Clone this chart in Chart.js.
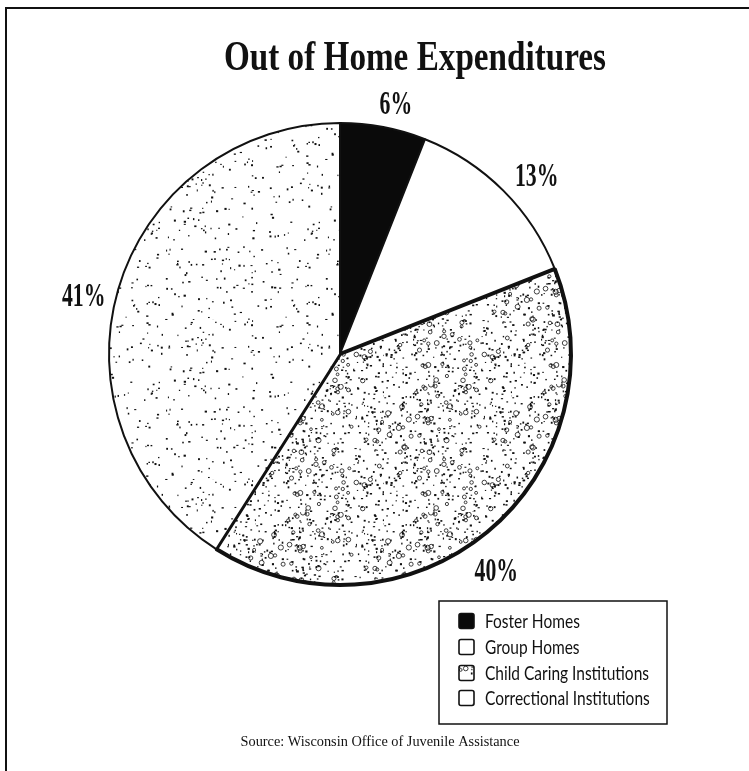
<!DOCTYPE html>
<html>
<head>
<meta charset="utf-8">
<script src="https://cdn.jsdelivr.net/npm/chart.js@4.4.1/dist/chart.umd.min.js"></script>
<style>
  html, body { margin: 0; padding: 0; background: #fff; }
  #wrap { width: 749px; height: 771px; }
</style>
</head>
<body>
<div id="wrap"><canvas id="chartOutOfHome" width="749" height="771"></canvas></div>
<script>
// Datos del gráfico
const categories = ['Foster Homes', 'Group Homes', 'Child Caring Institutions', 'Correctional Institutions'];
const shares = [6, 13, 40, 41];
const shareLabels = ['6%', '13%', '40%', '41%'];
const TITLE = 'Out of Home Expenditures';
const SOURCE = 'Source: Wisconsin Office of Juvenile Assistance';

(function() {
  'use strict';

  const CONTAINER_ID = 'chartOutOfHome';

  // Textura de puntos (determinista) para imitar el punteado impreso
  function makeSpeckle(size, count, ringShare, seed) {
    const c = document.createElement('canvas');
    c.width = c.height = size;
    const g = c.getContext('2d');
    g.fillStyle = '#fff';
    g.fillRect(0, 0, size, size);
    let s = seed;
    const rnd = () => { s = (s * 16807) % 2147483647; return s / 2147483647; };
    g.fillStyle = '#111';
    g.strokeStyle = '#111';
    for (let i = 0; i < count; i++) {
      const x = rnd() * size, y = rnd() * size, k = rnd();
      if (k < ringShare) {
        g.lineWidth = 0.8;
        g.beginPath();
        g.arc(x, y, 1.3 + rnd() * 1.3, 0, Math.PI * 2);
        g.stroke();
      } else {
        g.fillRect(x, y, 1 + rnd() * 1.3, 1 + rnd() * 1.1);
      }
    }
    return g.createPattern(c, 'repeat');
  }

  const fills = [
    '#0a0a0a',
    '#ffffff',
    makeSpeckle(128, 520, 0.14, 12345),
    makeSpeckle(160, 260, 0, 777)
  ];

  // Dibuja texto comprimido horizontalmente
  function drawText(ctx, text, x, y, font, align, sx) {
    ctx.save();
    ctx.font = font;
    ctx.fillStyle = '#111';
    ctx.textAlign = align;
    ctx.textBaseline = 'alphabetic';
    ctx.translate(x, y);
    ctx.scale(sx, 1);
    ctx.fillText(text, 0, 0);
    ctx.restore();
  }

  function fitScale(ctx, text, font, width) {
    ctx.save();
    ctx.font = font;
    const w = ctx.measureText(text).width;
    ctx.restore();
    return width / w;
  }

  const decorPlugin = {
    id: 'decor',
    beforeDraw(chart) {
      const ctx = chart.ctx;
      ctx.save();
      ctx.fillStyle = '#fff';
      ctx.fillRect(0, 0, chart.width, chart.height);
      // marco superior e izquierdo
      ctx.strokeStyle = '#111';
      ctx.lineWidth = 2;
      ctx.beginPath();
      ctx.moveTo(6, chart.height);
      ctx.lineTo(6, 8);
      ctx.lineTo(chart.width, 8);
      ctx.stroke();
      ctx.restore();
    },
    afterDatasetsDraw(chart, args, opts) {
      const ctx = chart.ctx;
      const meta = chart.getDatasetMeta(0);

      // Título
      const titleFont = 'bold 43px "Liberation Serif"';
      drawText(ctx, TITLE, 415, 70, titleFont, 'center', fitScale(ctx, TITLE, titleFont, 382));

      // Porcentajes alrededor del pastel
      meta.data.forEach((arc, i) => {
        const mid = (arc.startAngle + arc.endAngle) / 2 + opts.labelTurn[i] * Math.PI / 180;
        const d = arc.outerRadius + opts.labelGap[i];
        const x = arc.x + Math.cos(mid) * d;
        const y = arc.y + Math.sin(mid) * d;
        drawText(ctx, shareLabels[i], x, y + 11.5, 'bold 34px "Liberation Serif"', 'center', 0.64);
      });

      // Leyenda con recuadro
      ctx.save();
      ctx.strokeStyle = '#111';
      ctx.lineWidth = 1.5;
      ctx.strokeRect(439, 601, 228, 123);
      const legendFont = '19px Lato';
      const sx = fitScale(ctx, categories[2], legendFont, 164);
      const rows = [621, 647, 673, 698];
      categories.forEach((name, i) => {
        const cy = rows[i];
        ctx.fillStyle = chart.data.datasets[0].backgroundColor[i];
        ctx.beginPath();
        ctx.roundRect(459, cy - 7.5, 15, 15, 2);
        ctx.fill();
        ctx.lineWidth = 1.6;
        ctx.strokeStyle = '#111';
        ctx.stroke();
        drawText(ctx, name, 485, cy + 7, legendFont, 'left', sx);
      });
      ctx.restore();

      // Fuente
      const srcFont = '14px "Liberation Serif"';
      drawText(ctx, SOURCE, 380, 746, srcFont, 'center', fitScale(ctx, SOURCE, srcFont, 279));
    }
  };

  function init() {
    const canvas = document.getElementById(CONTAINER_ID);
    if (!canvas) return;
    const ctx = canvas.getContext('2d');

    new Chart(ctx, {
      type: 'pie',
      data: {
        labels: categories,
        datasets: [{
          data: shares,
          backgroundColor: fills,
          borderColor: '#111',
          borderWidth: [2, 2, 4, 2]
        }]
      },
      options: {
        responsive: false,
        animation: false,
        events: [],
        layout: {
          padding: { left: 107, right: 176, top: 121, bottom: 184 }
        },
        plugins: {
          legend: { display: false },
          title: { display: false },
          tooltip: { enabled: false },
          decor: {
            labelGap: [27, 35, 35, 32],
            labelTurn: [1.7, 2.7, 3.6, -3.2]
          }
        }
      },
      plugins: [decorPlugin]
    });
  }

  if (document.readyState === 'loading') {
    document.addEventListener('DOMContentLoaded', init);
  } else {
    init();
  }
})();
</script>
</body>
</html>
